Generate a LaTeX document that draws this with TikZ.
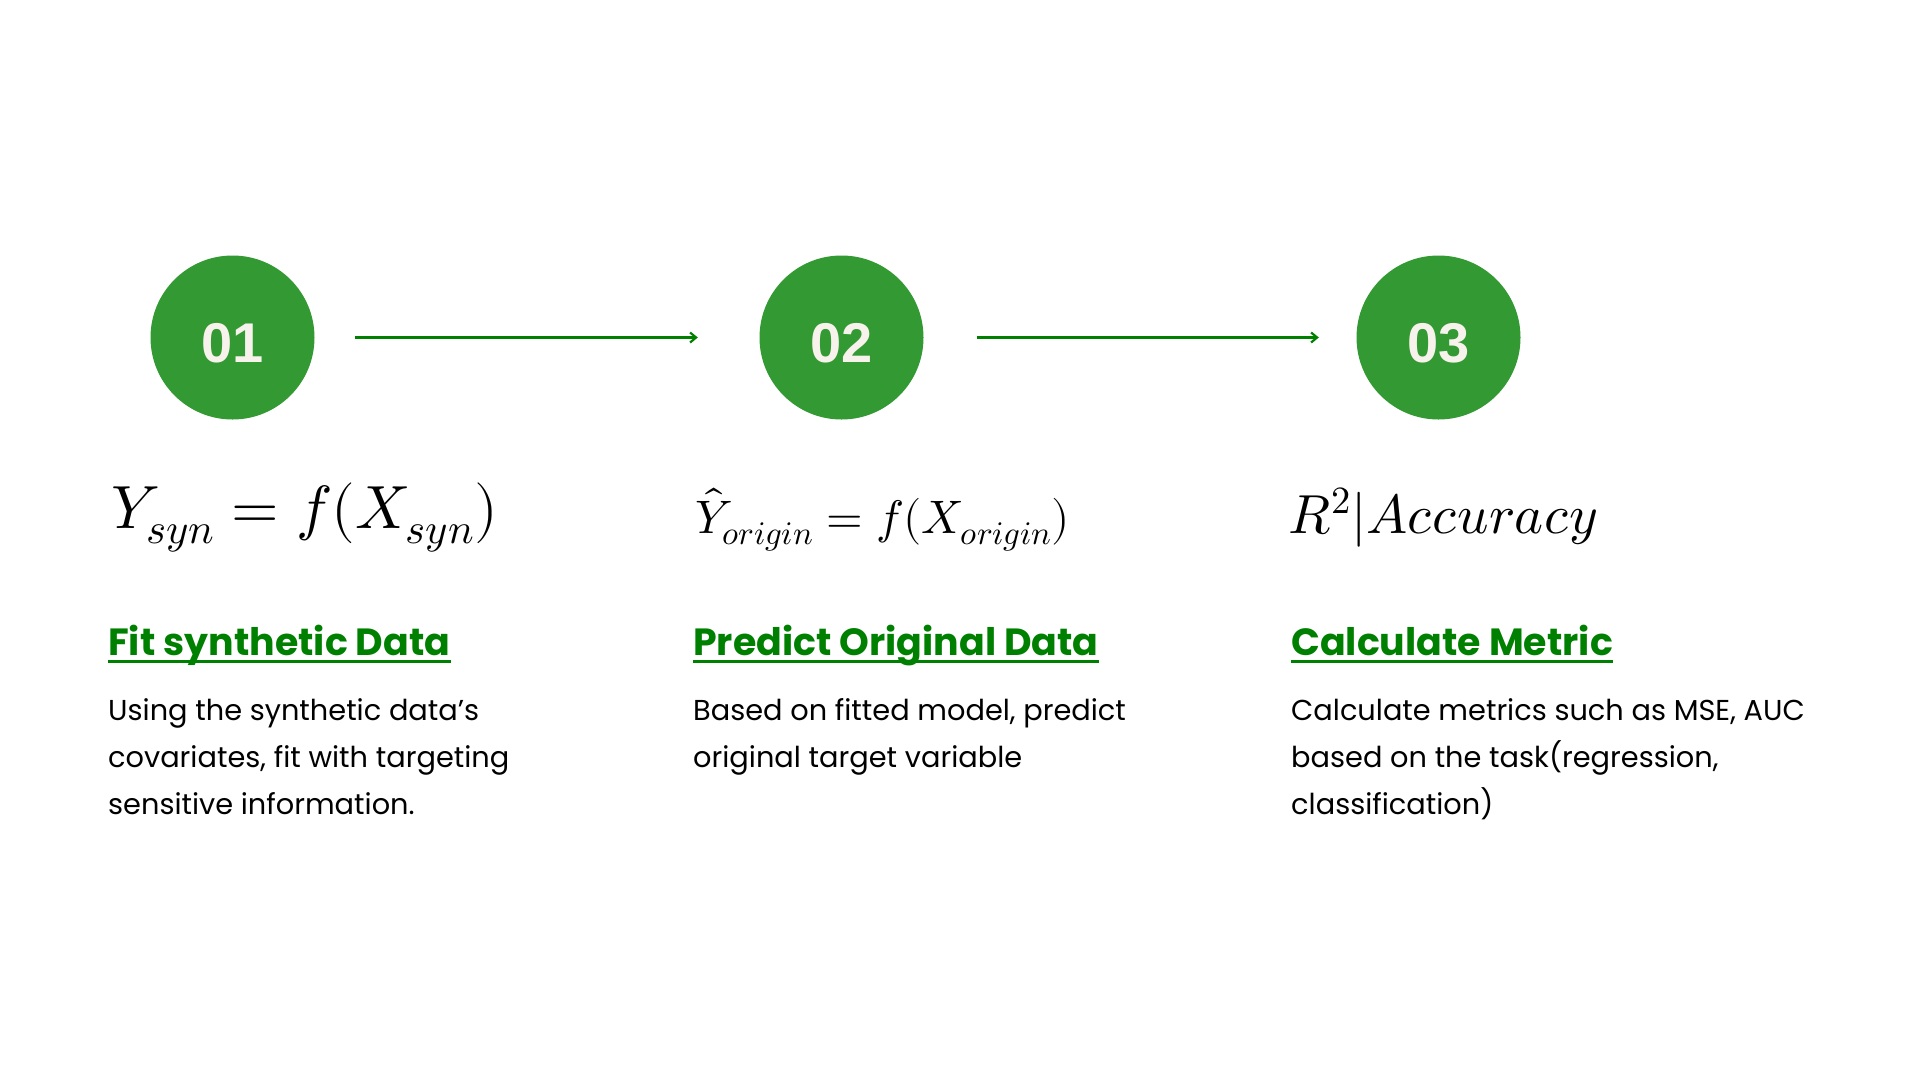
\documentclass[tikz,border=0pt]{standalone}
\usepackage{fontspec}
\usepackage{unicode-math}
\setmathfont{Latin Modern Math}
\newfontfamily\bodyfont{Poppins}
\newfontfamily\headfont{Poppins}[UprightFont=* Bold]
\newfontfamily\numfont{Liberation Sans}[UprightFont=* Bold]
\usetikzlibrary{arrows.meta}
\definecolor{circgreen}{HTML}{339933}
\definecolor{headgreen}{HTML}{008000}
\definecolor{numwhite}{HTML}{F7F3EC}
\tikzset{
  stepcirc/.style={circle, fill=circgreen, minimum size=164pt, inner sep=0pt,
    text=numwhite, font=\numfont\fontsize{56}{56}\selectfont, text height=49pt, text depth=0pt},
  flowarrow/.style={draw=headgreen, line width=2.6pt, -{Straight Barb[length=6pt,width=10pt,line width=2.2pt]}},
  formula/.style={anchor=base west, inner sep=0pt, text=black},
  heading/.style={anchor=base west, inner sep=0pt, text=headgreen, font=\headfont\fontsize{37.9}{40}\selectfont},
  ulline/.style={draw=headgreen, line width=3.2pt},
  bodyline/.style={anchor=base west, inner sep=0pt, text=black, font=\bodyfont\fontsize{28.8}{34}\selectfont},
}
\begin{document}
\begin{tikzpicture}[x=1pt,y=-1pt]
\useasboundingbox (0,0) rectangle (1920,1080);
\fill[white] (0,0) rectangle (1920,1080);

% numbered circles
\node[stepcirc] (c1) at (232.5,337.5) {01};
\node[stepcirc] (c2) at (841.5,337.5) {02};
\node[stepcirc] (c3) at (1438.5,337.5) {03};

% arrows
\draw[flowarrow, shorten <=40.5pt, shorten >=61.5pt] (c1) -- (c2);
\draw[flowarrow, shorten <=53.5pt, shorten >=37.5pt] (c2) -- (c3);

% formulas
\node[formula, font=\fontsize{61}{61}\selectfont] (f1) at (111,528) {$Y_{syn} = f(X_{syn})$};
\node[formula, font=\fontsize{47}{47}\selectfont] (f2) at (695,533) {$\hat{Y}_{origin} = f(X_{origin})$};
\node[formula, font=\fontsize{55}{55}\selectfont] (f3) at (1288,533) {$R^2|Accuracy$};

% headings
\node[heading] (h1) at (108,655) {Fit synthetic Data};
\node[heading] (h2) at (693,655) {Predict Original Data};
\node[heading] (h3) at (1291,655) {Calculate Metric};
\foreach \h in {h1,h2,h3}{
  \draw[ulline] ([yshift=-6.5pt]\h.base west) -- ([yshift=-6.5pt]\h.base east);
}

% body text
\node[bodyline] (b1a) at (108,720) {Using the synthetic data’s};
\node[bodyline] (b1b) at (108,767) {covariates, fit with targeting};
\node[bodyline] (b1c) at (108,814) {sensitive information.};
\node[bodyline] (b2a) at (693,720) {Based on fitted model, predict};
\node[bodyline] (b2b) at (693,767) {original target variable};
\node[bodyline] (b3a) at (1291,720) {Calculate metrics such as MSE, AUC};
\node[bodyline] (b3b) at (1291,767) {based on the task(regression,};
\node[bodyline] (b3c) at (1291,814) {classification)};
\end{tikzpicture}
\end{document}
